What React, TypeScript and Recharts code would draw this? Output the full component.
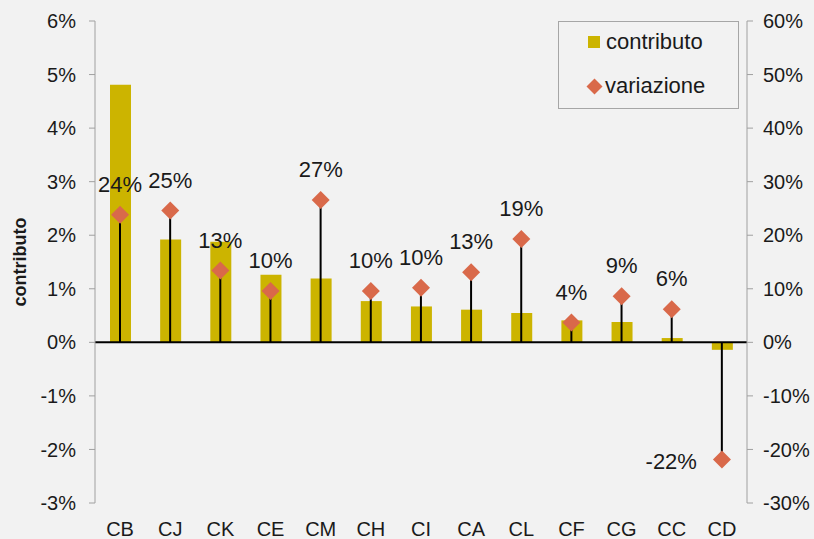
import React from 'react';
import {
    ComposedChart,
    Bar,
    Line,
    XAxis,
    YAxis,
    ReferenceLine,
    Legend
} from 'recharts';

const categories = ['CB', 'CJ', 'CK', 'CE', 'CM', 'CH', 'CI', 'CA', 'CL', 'CF', 'CG', 'CC', 'CD'];
// contributo (%), left axis
const contributo = [4.81, 1.92, 1.88, 1.26, 1.19, 0.77, 0.67, 0.61, 0.55, 0.41, 0.38, 0.08, -0.14];
// variazione (%), right axis
const variazione = [23.8, 24.6, 13.4, 9.6, 26.6, 9.6, 10.2, 13.1, 19.3, 3.7, 8.6, 6.2, -21.9];

const leftTicks = [-3, -2, -1, 0, 1, 2, 3, 4, 5, 6];
const rightTicks = [-30, -20, -10, 0, 10, 20, 30, 40, 50, 60];

const GOLD = '#CCB400';
const ORANGE = '#D9694A';
const FONT = '"Liberation Sans", Arial, sans-serif';

const data = categories.map((cat, i) => ({
    cat,
    contributo: contributo[i],
    variazione: variazione[i]
}));

const pct = (v: number) => `${Math.round(v)}%`;

function Diamond(props: any) {
    const { cx, cy, value } = props;
    if (cx == null || cy == null) return null;
    const r = 9;
    const neg = value < 0;
    return (
        <g>
            <polygon
                points={`${cx},${cy - r} ${cx + r},${cy} ${cx},${cy + r} ${cx - r},${cy}`}
                fill={ORANGE}
            />
            <text
                x={neg ? cx - 25 : cx}
                y={neg ? cy + 9 : cy - 23}
                textAnchor={neg ? 'end' : 'middle'}
                fontSize={22}
                fontFamily={FONT}
                fill="#1a1a1a"
            >
                {pct(value)}
            </text>
        </g>
    );
}

function CatTick(props: any) {
    const { x, y, payload } = props;
    // y comes in at the bottom edge of the axis band here
    return (
        <text x={x} y={y - 3} textAnchor="middle" fontSize={20} fontFamily={FONT} fill="#1a1a1a">
            {payload.value}
        </text>
    );
}

function LegendBox() {
    return (
        <div
            style={{
                width: 181,
                height: 88,
                border: '1px solid #a6a6a6',
                fontFamily: FONT,
                fontSize: 22,
                color: '#1a1a1a',
                boxSizing: 'border-box',
                position: 'relative'
            }}
        >
            <div style={{ position: 'absolute', left: 29, top: 7, display: 'flex', alignItems: 'center' }}>
                <span style={{ width: 12, height: 12, background: GOLD, display: 'inline-block', marginRight: 6 }} />
                contributo
            </div>
            <div style={{ position: 'absolute', left: 27, top: 51, display: 'flex', alignItems: 'center' }}>
                <svg width={17} height={17} style={{ marginRight: 2 }}>
                    <polygon points="8.5,0.5 16.5,8.5 8.5,16.5 0.5,8.5" fill={ORANGE} />
                </svg>
                variazione
            </div>
        </div>
    );
}

export default function App() {
    return (
        <div style={{ position: 'absolute', left: 0, top: 0, width: 814, height: 539, background: '#F2F2F2' }}>
            <ComposedChart
                width={814}
                height={539}
                data={data}
                margin={{ top: 21, right: 0, bottom: 0, left: 0 }}
            >
                <XAxis
                    xAxisId="main"
                    dataKey="cat"
                    height={36}
                    axisLine={false}
                    tickLine={false}
                    tickMargin={0}
                    interval={0}
                    tick={<CatTick />}
                />
                <XAxis xAxisId="drop" dataKey="cat" hide />
                <YAxis
                    yAxisId="left"
                    width={95}
                    domain={[-3, 6]}
                    ticks={leftTicks}
                    tickFormatter={pct}
                    stroke="#a0a0a0"
                    tickSize={6}
                    tickMargin={13}
                    tick={{ fontSize: 20, fontFamily: FONT, fill: '#1a1a1a' }}
                    label={{
                        content: ({ viewBox }: any) => (
                            <text
                                x={26}
                                y={viewBox.y + viewBox.height / 2}
                                transform={`rotate(-90, 26, ${viewBox.y + viewBox.height / 2})`}
                                textAnchor="middle"
                                fontSize={18}
                                fontWeight="bold"
                                fontFamily={FONT}
                                fill="#1a1a1a"
                            >
                                contributo
                            </text>
                        )
                    }}
                />
                <YAxis
                    yAxisId="right"
                    orientation="right"
                    width={67}
                    domain={[-30, 60]}
                    ticks={rightTicks}
                    tickFormatter={pct}
                    stroke="#a0a0a0"
                    tickSize={6}
                    tickMargin={10}
                    tick={{ fontSize: 20, fontFamily: FONT, fill: '#1a1a1a', textAnchor: 'start' }}
                />
                <Legend
                    layout="horizontal"
                    verticalAlign="middle"
                    wrapperStyle={{ position: 'absolute', left: 558, top: 21, width: 181, height: 88 }}
                    content={() => <LegendBox />}
                />
                <Bar
                    xAxisId="main"
                    yAxisId="left"
                    dataKey="contributo"
                    name="contributo"
                    fill={GOLD}
                    barSize={21}
                    isAnimationActive={false}
                />
                <Bar
                    xAxisId="drop"
                    yAxisId="right"
                    dataKey="variazione"
                    legendType="none"
                    fill="#000"
                    barSize={2}
                    isAnimationActive={false}
                />
                <ReferenceLine xAxisId="main" yAxisId="left" y={0} stroke="#000" strokeWidth={2} />
                <Line
                    xAxisId="main"
                    yAxisId="right"
                    dataKey="variazione"
                    name="variazione"
                    stroke="none"
                    dot={<Diamond />}
                    activeDot={false}
                    isAnimationActive={false}
                />
            </ComposedChart>
        </div>
    );
}
